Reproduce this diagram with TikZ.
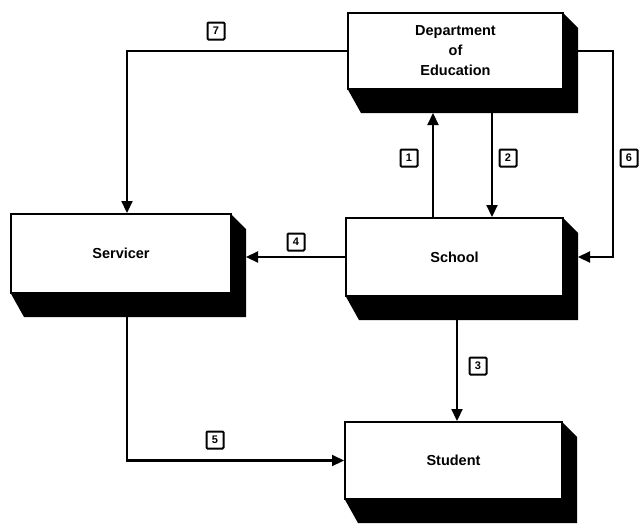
\documentclass[tikz,border=0pt]{standalone}
\usepackage{fontspec}
\setmainfont{Liberation Sans}
\usetikzlibrary{arrows.meta}
\tikzset{
  face/.style={draw, line width=2pt, fill=white, inner sep=0pt, align=center,
    font=\bfseries\fontsize{14.5}{20}\selectfont},
  conn/.style={line width=2.2pt, -{Triangle[length=12pt,width=11pt]}},
  lab/.style={draw, line width=2pt, minimum size=17pt, inner sep=0pt, rounded corners=1pt,
    font=\bfseries\fontsize{11}{11}\selectfont},
  ghost/.style={inner sep=0pt, outer sep=0pt, anchor=north west}
}
% name, left, top, width, height, text
\newcommand\tdbox[6]{%
  \fill (#2+#4,#3) -- (#2+#4+16,#3+16) -- (#2+#4+16,#3+#5+25) -- (#2+14,#3+#5+25) -- (#2,#3+#5) -- cycle;
  \node[ghost, minimum width=#4pt+16pt, minimum height=#5pt+25pt] (#1-s) at (#2,#3) {};
  \node[face, minimum width=#4pt, minimum height=#5pt, anchor=north west] (#1) at (#2,#3) {#6};
}
\begin{document}
\begin{tikzpicture}[x=1pt,y=-1pt]
\useasboundingbox (0,0) rectangle (640,525);
\tdbox{dept}{347}{12}{215}{76}{Department\\of\\Education}
\tdbox{serv}{10}{213}{220}{79}{Servicer}
\tdbox{school}{345}{217}{217}{78}{School}
\tdbox{student}{344}{421}{217}{77}{Student}

\coordinate (x127) at (127,0);
\coordinate (x433) at (433,0);
\coordinate (x492) at (492,0);
\coordinate (x613) at (613,0);
\coordinate (x457) at (457,0);

% 7
\draw[conn] (dept.west) -| (x127 |- serv.north);
\node[lab] (l7) at (216,31) {7};
% 1
\draw[conn] (x433 |- school.north) -- (x433 |- dept-s.south);
\node[lab] (l1) at (409,158) {1};
% 2
\draw[conn] (x492 |- dept-s.south) -- (x492 |- school.north);
\node[lab] (l2) at (508,158) {2};
% 6
\draw[conn] (dept.east -| dept-s.east) -- (x613 |- dept.east) -- (x613 |- school.east) -- (school.east -| school-s.east);
\node[lab] (l6) at (629,158) {6};
% 4
\draw[conn] (school.west) -- (school.west -| serv-s.east);
\node[lab] (l4) at (296,242) {4};
% 3
\draw[conn] (x457 |- school-s.south) -- (x457 |- student.north);
\node[lab] (l3) at (478,366) {3};
% 5
\draw[conn] (x127 |- serv-s.south) |- (student.west);
\node[lab] (l5) at (215,440) {5};
\end{tikzpicture}
\end{document}
